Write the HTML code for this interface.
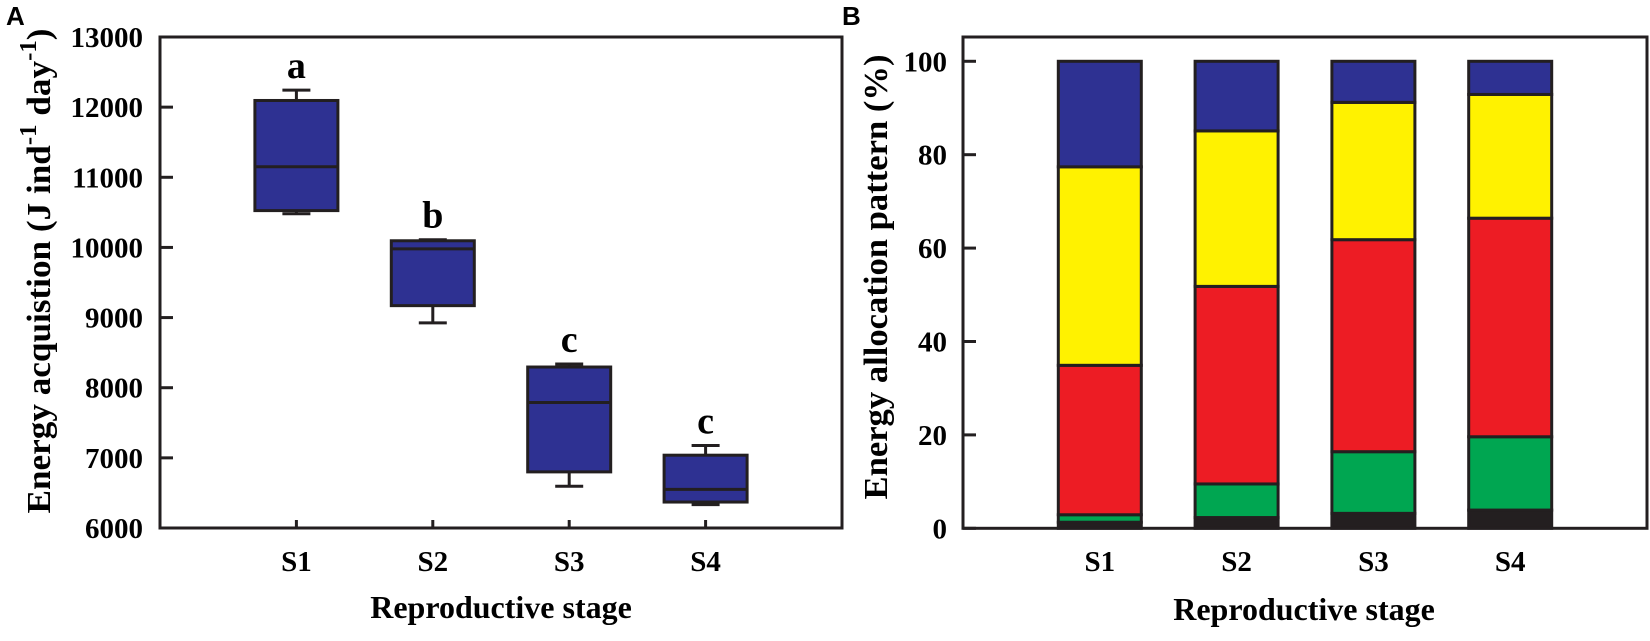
<!DOCTYPE html>
<html><head><meta charset="utf-8"><style>
html,body{margin:0;padding:0;background:#fff;}
svg{display:block;font-family:"Liberation Serif",serif;font-weight:bold;}
</style></head><body>
<svg id="chart" width="1650" height="641" viewBox="0 0 1650 641" xmlns="http://www.w3.org/2000/svg">
<text x="6" y="25" font-family="Liberation Sans, sans-serif" font-size="26" font-weight="bold">A</text>
<text x="842" y="25" font-family="Liberation Sans, sans-serif" font-size="26" font-weight="bold">B</text>
<g id="pa"></g>
<g id="pb"></g>
<text x="501" y="618" font-size="32" text-anchor="middle">Reproductive stage</text>
<text x="1304" y="620" font-size="32" text-anchor="middle">Reproductive stage</text>
<text transform="translate(50,271) rotate(-90)" font-size="34" text-anchor="middle" textLength="485" lengthAdjust="spacingAndGlyphs">Energy acquistion (J ind<tspan dy="-14" font-size="24">-1</tspan><tspan dy="14"> day</tspan><tspan dy="-14" font-size="24">-1</tspan><tspan dy="14">)</tspan></text>
<text transform="translate(887,277) rotate(-90)" font-size="34" text-anchor="middle" textLength="445" lengthAdjust="spacingAndGlyphs">Energy allocation pattern (%)</text>
</svg>
<script>
const stages = ["S1","S2","S3","S4"];
const whiskerLow = [10480, 8925, 6595, 6333];
const q1 = [10525, 9170, 6800, 6370];
const median = [11150, 9980, 7790, 6550];
const q3 = [12095, 10095, 8295, 7038];
const whiskerHigh = [12243, 10110, 8338, 7176];
const sigLetters = ["a","b","c","c"];
const yTicksA = [6000,7000,8000,9000,10000,11000,12000,13000];

const blackPct = [1.3, 2.3, 3.2, 3.9];
const greenPct = [1.6, 7.2, 13.2, 15.7];
const redPct = [32.0, 42.3, 45.4, 46.8];
const yellowPct = [42.5, 33.3, 29.4, 26.5];
const bluePct = [22.6, 14.9, 8.8, 7.1];
const yTicksB = [0,20,40,60,80,100];

const NS = "http://www.w3.org/2000/svg";
function mk(parent, tag, attrs, text){
  const e = document.createElementNS(NS, tag);
  for (const k in attrs) e.setAttribute(k, attrs[k]);
  if (text !== undefined) e.textContent = text;
  parent.appendChild(e); return e;
}
// Panel A
const A = {l:160, r:842, t:37, b:528, ymin:6000, ymax:13000};
const xA = i => A.l + (i+1)*(A.r-A.l)/5;
const yA = v => A.b - (v-A.ymin)/(A.ymax-A.ymin)*(A.b-A.t);
const pa = document.getElementById('pa');
const frameA = mk(pa,'rect',{x:A.l,y:A.t,width:A.r-A.l,height:A.b-A.t,fill:'none',stroke:'#231f20','stroke-width':3});


yTicksA.forEach(v=>{
  const y = yA(v);
  const tk = mk(pa,'line',{x1:A.l,x2:A.l+13,y1:y,y2:y,stroke:'#231f20','stroke-width':3});
  
  
  const lb = mk(pa,'text',{x:143,y:y+10,'font-size':29,'text-anchor':'end'},String(v));
  
  
});
const bw = 83, cw = 28;
stages.forEach((s,i)=>{
  const cx = xA(i);
  const tk = mk(pa,'line',{x1:cx,x2:cx,y1:A.b,y2:A.b-8,stroke:'#231f20','stroke-width':3});
  
  
  const lb = mk(pa,'text',{x:cx,y:571,'font-size':29,'text-anchor':'middle'},s);
  
  
  const g = mk(pa,'g',{});
  
  
  const st = {stroke:'#231f20','stroke-width':3};
  mk(g,'line',Object.assign({x1:cx,x2:cx,y1:yA(whiskerHigh[i]),y2:yA(q3[i])},st));
  mk(g,'line',Object.assign({x1:cx,x2:cx,y1:yA(q1[i]),y2:yA(whiskerLow[i])},st));
  mk(g,'line',Object.assign({x1:cx-cw/2,x2:cx+cw/2,y1:yA(whiskerHigh[i]),y2:yA(whiskerHigh[i])},st));
  mk(g,'line',Object.assign({x1:cx-cw/2,x2:cx+cw/2,y1:yA(whiskerLow[i]),y2:yA(whiskerLow[i])},st));
  mk(g,'rect',Object.assign({x:cx-bw/2,y:yA(q3[i]),width:bw,height:yA(q1[i])-yA(q3[i]),fill:'#2e3192'},st));
  mk(g,'line',Object.assign({x1:cx-bw/2,x2:cx+bw/2,y1:yA(median[i]),y2:yA(median[i])},st));
  const sl = mk(pa,'text',{x:cx,y:yA(whiskerHigh[i])-12,'font-size':38,'text-anchor':'middle'},sigLetters[i]);
  
  
});
// Panel B
const B = {l:963, r:1647, t:37, b:528.3, ymax:105.2};
const xB = i => B.l + (i+1)*(B.r-B.l)/5;
const yB = v => B.b - v/B.ymax*(B.b-B.t);
const pb = document.getElementById('pb');
yTicksB.forEach(v=>{
  const y = yB(v);
  const tk = mk(pb,'line',{x1:B.l,x2:B.l+13,y1:y,y2:y,stroke:'#231f20','stroke-width':3});
  
  
  const lb = mk(pb,'text',{x:947,y:y+10,'font-size':29,'text-anchor':'end'},String(v));
  
  
});
const series = [[blackPct,'#231f20','black'],[greenPct,'#00a651','green'],[redPct,'#ed1c24','red'],[yellowPct,'#fff200','yellow'],[bluePct,'#2e3192','blue']];
stages.forEach((s,i)=>{
  const cx = xB(i);
  let cum = 0;
  series.forEach(([arr,col,nm])=>{
    const y0 = yB(cum), y1 = yB(cum+arr[i]);
    const r = mk(pb,'rect',{x:cx-bw/2,y:y1,width:bw,height:y0-y1,fill:col,stroke:'#231f20','stroke-width':3});
    
    
    cum += arr[i];
  });
  const lb = mk(pb,'text',{x:cx,y:571,'font-size':29,'text-anchor':'middle'},s);
  
  
});
const frameB = mk(pb,'rect',{x:B.l,y:B.t,width:B.r-B.l,height:B.b-B.t,fill:'none',stroke:'#231f20','stroke-width':3});


</script>
</body></html>
